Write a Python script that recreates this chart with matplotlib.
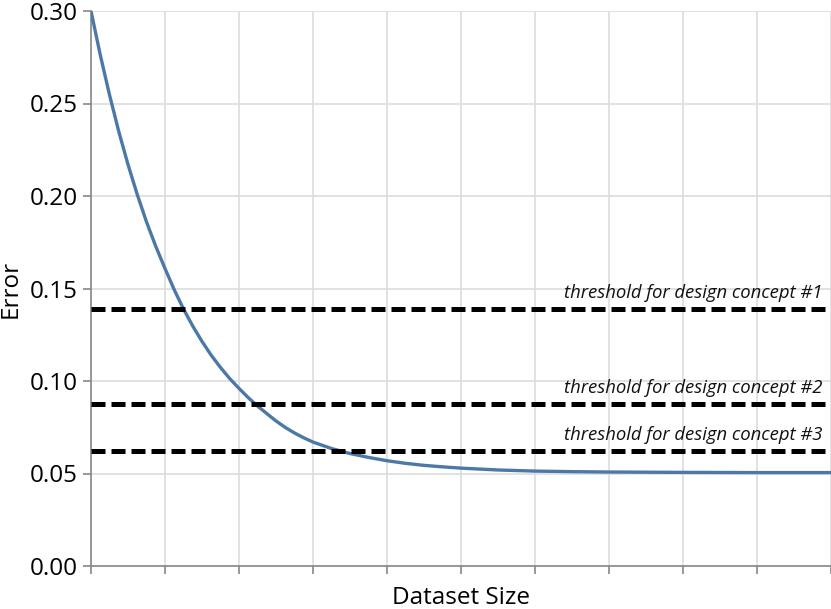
import matplotlib
matplotlib.use("Agg")
import matplotlib.pyplot as plt

plt.rcParams['font.family'] = ['Open Sans', 'DejaVu Sans']

# error curve (x in grid units, no labels shown)
dataset_size = [0, 0.125, 0.25, 0.375, 0.5, 0.625, 0.75, 0.875, 1.0, 1.125, 1.25,
                1.375, 1.5, 1.625, 1.75, 1.875, 2.0, 2.125, 2.25, 2.375, 2.5,
                2.625, 2.75, 2.875, 3.0, 3.25, 3.5, 3.75, 4.0, 4.25, 4.5, 4.75,
                5.0, 5.5, 6.0, 6.5, 7.0, 8.0, 9.0, 10.0]
error = [0.300, 0.2763, 0.2547, 0.2349, 0.2170, 0.2008, 0.1860, 0.1728, 0.1608,
         0.1493, 0.1389, 0.1297, 0.1214, 0.1139, 0.1073, 0.1013, 0.0960, 0.0910,
         0.0865, 0.0824, 0.0784, 0.0749, 0.0719, 0.0693, 0.0670, 0.0635, 0.0608,
         0.0587, 0.0569, 0.0555, 0.0544, 0.0536, 0.0529, 0.0519, 0.0513, 0.0510,
         0.0508, 0.0506, 0.0505, 0.0505]

thresholds = [0.139, 0.0875, 0.062]
threshold_labels = ["threshold for design concept #1",
                    "threshold for design concept #2",
                    "threshold for design concept #3"]

fig = plt.figure(figsize=(8.31, 6.09), dpi=100)
ax = fig.add_axes([91 / 831, 43 / 609, 740 / 831, 555 / 609])

ax.plot(dataset_size, error, color="#4c78a8", lw=2.4, solid_joinstyle="round", zorder=3)

for thr, lab in zip(thresholds, threshold_labels):
    ax.plot([0, 10], [thr, thr], color="black", lw=3.6, dashes=(2.8, 1.2), zorder=4)
    ax.annotate(lab, xy=(10, thr), xytext=(-6, 5), textcoords="offset points",
                ha="right", va="bottom", fontsize=13.3, style="italic", color="#111111")

ax.set_xlim(0, 10)
ax.set_ylim(0, 0.30)
ax.set_xticks(range(0, 11))
ax.set_xticklabels([])
ax.set_yticks([0, 0.05, 0.10, 0.15, 0.20, 0.25, 0.30])
ax.set_yticklabels(["0.00", "0.05", "0.10", "0.15", "0.20", "0.25", "0.30"])

ax.grid(True, color="#dddddd", lw=1.2, zorder=0)
ax.set_axisbelow(True)
for s in ["top", "right"]:
    ax.spines[s].set_visible(False)
for s in ["left", "bottom"]:
    ax.spines[s].set_color("#888888")
    ax.spines[s].set_linewidth(1.2)
ax.tick_params(axis="both", color="#888888", width=1.2, length=6, labelsize=17.5, pad=3.5)

ax.set_xlabel("Dataset Size", fontsize=17.5, va="center")
ax.xaxis.set_label_coords(0.5, -32 / 555)
ax.set_ylabel("Error", fontsize=17.5, va="center")
ax.yaxis.set_label_coords(-80 / 740, 0.5)

fig.savefig("out.png", dpi=100)
